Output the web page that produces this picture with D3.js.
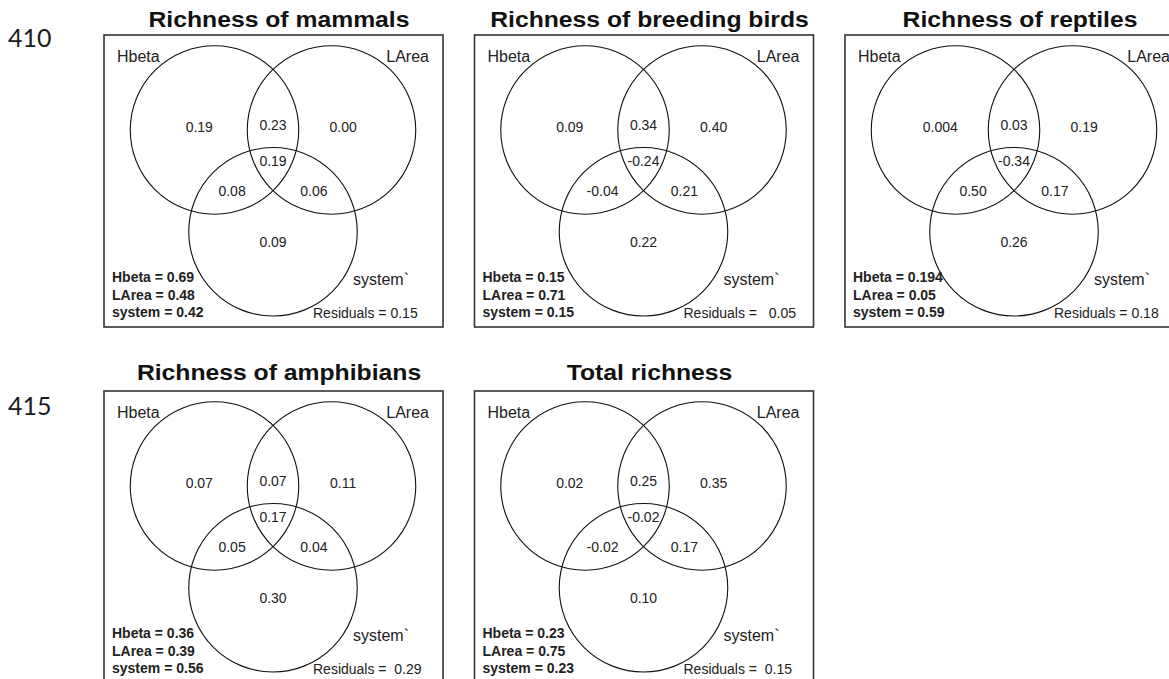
<!DOCTYPE html>
<html>
<head>
<meta charset="utf-8">
<script src="https://cdn.jsdelivr.net/npm/d3@7/dist/d3.min.js"></script>
<style>
  html, body { margin: 0; padding: 0; background: #fff; }
  svg { display: block; }
  text { white-space: pre; }
</style>
</head>
<body>
<script>
// ---------- data ----------
const titles = ["Richness of mammals", "Richness of breeding birds", "Richness of reptiles",
                "Richness of amphibians", "Total richness"];
const setNames = ["Hbeta", "LArea", "system`"];
const rowLabels = ["410", "415"];
// fraction order: Hbeta only, Hbeta∩LArea, LArea only, all three, Hbeta∩system, LArea∩system, system only
const regionKeys = ["H", "HL", "L", "HLS", "HS", "LS", "S"];
const mammals    = [0.19, 0.23, 0.00, 0.19, 0.08, 0.06, 0.09];
const birds      = [0.09, 0.34, 0.40, -0.24, -0.04, 0.21, 0.22];
const reptiles   = [0.004, 0.03, 0.19, -0.34, 0.50, 0.17, 0.26];
const amphibians = [0.07, 0.07, 0.11, 0.17, 0.05, 0.04, 0.30];
const total      = [0.02, 0.25, 0.35, -0.02, -0.02, 0.17, 0.10];
const hbetaTotal  = [0.69, 0.15, 0.194, 0.36, 0.23];
const lareaTotal  = [0.48, 0.71, 0.05, 0.39, 0.75];
const systemTotal = [0.42, 0.15, 0.59, 0.56, 0.23];
const residuals   = [0.15, 0.05, 0.18, 0.29, 0.15];

const series = [mammals, birds, reptiles, amphibians, total];

// ---------- layout (Venn geometry in unit space, centre distance = 1) ----------
const circleCentres = [[0, 0], [1, 0], [0.5, -0.87]];
const circleRadius = 0.72;
const regionAnchors = {
  H: [-0.13, 0.03], HL: [0.5, 0.04], L: [1.10, 0.03], HLS: [0.5, -0.265],
  HS: [0.15, -0.525], LS: [0.85, -0.525], S: [0.5, -0.955]
};
const residualPad = [1, 3, 1, 2, 2];

const W = 1169, H = 679;
const panelW = 339, panelH = 292;
const colX = [104, 474.5, 845];
const rowY = [35, 391];
const unit = 117;

const fmt = v => (Math.abs(Math.round(v * 100) / 100 - v) > 1e-9 ? v.toFixed(3) : v.toFixed(2));

const svg = d3.select("body").append("svg")
  .attr("width", W).attr("height", H)
  .style("font-family", "Arial, 'Liberation Sans', sans-serif");

svg.append("rect").attr("width", W).attr("height", H).attr("fill", "#fff");

// row labels
svg.selectAll("text.row").data(rowLabels).join("text")
  .attr("class", "row")
  .attr("x", 8)
  .attr("y", (d, i) => rowY[i] + (i === 0 ? 12 : 24))
  .attr("font-family", "Lato, 'Open Sans', sans-serif")
  .attr("font-size", 25)
  .attr("fill", "#1a1a1a")
  .text(d => d);

series.forEach((vals, p) => {
  const col = p % 3, row = Math.floor(p / 3);
  const g = svg.append("g").attr("transform", `translate(${colX[col]},${rowY[row]})`);

  const x = d3.scaleLinear().domain([0, 1]).range([110.5, 110.5 + unit]);
  const y = d3.scaleLinear().domain([0, -1]).range([95, 95 + unit]);
  const r = x(circleRadius) - x(0);

  // title
  g.append("text")
    .attr("transform", `translate(175,${row === 0 ? -8.5 : -11.5}) scale(1.15,1)`)
    .attr("text-anchor", "middle")
    .attr("font-weight", "bold")
    .attr("font-size", 21.5)
    .attr("fill", "#111")
    .text(titles[p]);

  // box
  g.append("rect")
    .attr("x", 0).attr("y", 0).attr("width", panelW).attr("height", panelH)
    .attr("fill", "none").attr("stroke", "#333").attr("stroke-width", 1.6);

  // circles
  g.selectAll("circle").data(circleCentres).join("circle")
    .attr("cx", d => x(d[0])).attr("cy", d => y(d[1])).attr("r", r)
    .attr("fill", "none").attr("stroke", "#111").attr("stroke-width", 1.1);

  // set names
  g.append("text").attr("x", 13).attr("y", 27)
    .attr("font-size", 16).attr("fill", "#222").text(setNames[0]);
  g.append("text").attr("x", panelW - 14).attr("y", 27).attr("text-anchor", "end")
    .attr("font-size", 16).attr("fill", "#222").text(setNames[1]);
  g.append("text").attr("x", 249).attr("y", 250)
    .attr("font-size", 16).attr("fill", "#222").text(setNames[2]);

  // region values
  g.selectAll("text.val").data(regionKeys.map((k, i) => ({ k, v: vals[i] }))).join("text")
    .attr("class", "val")
    .attr("x", d => x(regionAnchors[d.k][0]))
    .attr("y", d => y(regionAnchors[d.k][1]))
    .attr("dy", "0.36em")
    .attr("text-anchor", "middle")
    .attr("font-size", 14)
    .attr("fill", "#222")
    .text(d => fmt(d.v));

  // fraction totals (bold)
  const stats = [["Hbeta", hbetaTotal[p]], ["LArea", lareaTotal[p]], ["system", systemTotal[p]]];
  g.selectAll("text.stat").data(stats).join("text")
    .attr("class", "stat")
    .attr("x", 8)
    .attr("y", (d, i) => 247 + i * 17.5)
    .attr("font-size", 14)
    .attr("font-weight", "bold")
    .attr("fill", "#222")
    .text(d => `${d[0]} = ${fmt(d[1])}`);

  // residuals
  g.append("text").attr("x", 209).attr("y", 283)
    .attr("font-size", 14).attr("fill", "#222")
    .text("Residuals =" + " ".repeat(residualPad[p]) + fmt(residuals[p]));
});
</script>
</body>
</html>
